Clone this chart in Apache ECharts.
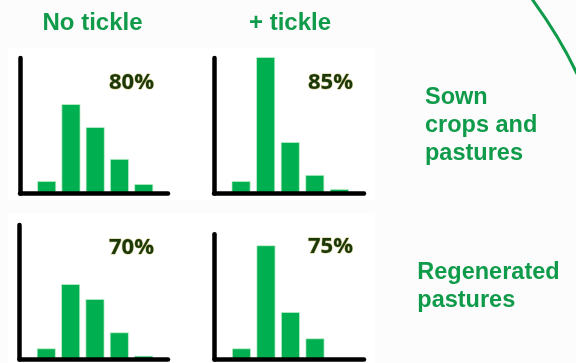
<!DOCTYPE html>
<html>
<head>
<meta charset="utf-8">
<script src="https://cdn.jsdelivr.net/npm/echarts@6/dist/echarts.min.js"></script>
<style>
html,body{margin:0;padding:0;background:#fcfcfc;}
#chart{width:576px;height:363px;}
</style>
</head>
<body>
<div id="chart"></div>
<script>
// Data (bar heights as % of each panel's y-axis length)
const bins = [1, 2, 3, 4, 5];
const sownNoTickle = [9.2, 66, 49, 25.5, 7];
const sownTickle = [9.2, 100.7, 38, 13.7, 3.3];
const regenNoTickle = [8.3, 56.1, 45, 20.2, 2.8];
const regenTickle = [8.9, 91.2, 37.9, 16.9, 1];
const columnTitles = ['No tickle', '+ tickle'];
const panelLabels = ['80%', '85%', '70%', '75%'];
const rowLabels = ['Sown\ncrops and\npastures', 'Regenerated\npastures'];

const GREEN = '#0f9b4a';
const BAR = '#00b050';

const grids = [
  {left: 20, top: 58, width: 148, height: 135.5},
  {left: 214, top: 58, width: 150, height: 135.5},
  {left: 19.5, top: 225, width: 148.5, height: 134.5},
  {left: 214.5, top: 234.3, width: 149.5, height: 125.2}
];
const seriesData = [sownNoTickle, sownTickle, regenNoTickle, regenTickle];

const xAxes = grids.map((g, i) => ({
  type: 'value', gridIndex: i, min: -0.1, max: 6, z: 5,
  axisLine: {show: true, onZero: true, lineStyle: {color: '#000', width: 4.5}},
  axisTick: {show: false}, axisLabel: {show: false}, splitLine: {show: false}
}));
const yAxes = grids.map((g, i) => ({
  type: 'value', gridIndex: i, min: 0, max: 100, z: 5,
  axisLine: {show: true, onZero: false, lineStyle: {color: '#000', width: 4.5}},
  axisTick: {show: false}, axisLabel: {show: false}, splitLine: {show: false}
}));
const series = seriesData.map((d, i) => ({
  type: 'bar', xAxisIndex: i, yAxisIndex: i, barWidth: 19, clip: false,
  itemStyle: {color: BAR, borderColor: 'rgba(200,240,210,0.9)', borderWidth: 0.8},
  data: d.map((v, j) => [bins[j], v]),
  silent: true
}));

const labelPos = [[131.5, 83], [330.5, 83], [131.5, 247.5], [330.5, 246.5]];
const graphic = [
  {type: 'rect', z: -10, shape: {x: 8, y: 48, width: 367, height: 152}, style: {fill: '#ffffff'}},
  {type: 'rect', z: -10, shape: {x: 8, y: 213, width: 367, height: 150}, style: {fill: '#ffffff'}},
  {type: 'bezierCurve', shape: {x1: 532, y1: -1, x2: 577, y2: 74, cpx1: 561, cpy1: 39}, style: {stroke: GREEN, lineWidth: 3, fill: null}},
  {type: 'text', x: 92.5, y: 23, style: {text: columnTitles[0], fill: GREEN, font: 'bold 24px "Liberation Sans", Arial, sans-serif', textAlign: 'center', textVerticalAlign: 'middle'}},
  {type: 'text', x: 290, y: 23, style: {text: columnTitles[1], fill: GREEN, font: 'bold 24px "Liberation Sans", Arial, sans-serif', textAlign: 'center', textVerticalAlign: 'middle'}},
  {type: 'text', x: 425, y: 83.6, style: {text: rowLabels[0], fill: GREEN, font: 'bold 23.5px "Liberation Sans", Arial, sans-serif', lineHeight: 28, textAlign: 'left', textVerticalAlign: 'top'}},
  {type: 'text', x: 417.3, y: 258.6, style: {text: rowLabels[1], fill: GREEN, font: 'bold 23.5px "Liberation Sans", Arial, sans-serif', lineHeight: 28, textAlign: 'left', textVerticalAlign: 'top'}}
];
panelLabels.forEach((t, i) => {
  graphic.push({type: 'text', x: labelPos[i][0], y: labelPos[i][1], z: 10,
    style: {text: t, fill: '#1a380a', font: 'bold 22px "Open Sans", Lato, sans-serif',
      textAlign: 'center', textVerticalAlign: 'middle',
      stroke: 'rgba(170,150,30,0.55)', lineWidth: 1}});
});

const chart = echarts.init(document.getElementById('chart'), null, {renderer: 'canvas'});
chart.setOption({
  backgroundColor: '#fcfcfc',
  animation: false,
  grid: grids,
  xAxis: xAxes,
  yAxis: yAxes,
  series: series,
  graphic: graphic
});
</script>
</body>
</html>
